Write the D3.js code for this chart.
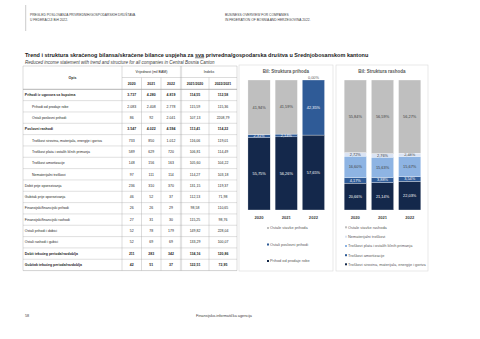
<!DOCTYPE html>
<html><head><meta charset="utf-8">
<script src="https://cdn.jsdelivr.net/npm/d3@7"></script>
<style>body{margin:0;background:#fff} svg{display:block;font-family:"Liberation Sans",Arial,sans-serif}</style>
</head><body><svg id="c" width="480" height="339"></svg>
<script>
// ---------- DATA ----------
const rowLabels = [
  "Prihodi iz ugovora sa kupcima",
  "Prihodi od prodaje robe",
  "Ostali poslovni prihodi",
  "Poslovni rashodi",
  "Troškovi sirovina, materijala, energije i goriva",
  "Troškovi plata i ostalih ličnih primanja",
  "Troškovi amortizacije",
  "Nematerijalni troškovi",
  "Dobit prije oporezivanja",
  "Gubitak prije oporezivanja",
  "Finansijski/financijski prihodi",
  "Finansijski/financijski rashodi",
  "Ostali prihodi i dobici",
  "Ostali rashodi i gubici",
  "Dobit tekućeg perioda/razdoblja",
  "Gubitak tekućeg perioda/razdoblja"
];
const boldRows = [0, 3, 14, 15];
const indentRows = [1, 2, 4, 5, 6, 7];
const val2020 = [3737, 2083, 86, 3547, 733, 589, 148, 97, 236, 46, 26, 27, 52, 52, 211, 42];
const val2021 = [4280, 2408, 92, 4022, 850, 629, 156, 111, 310, 52, 26, 31, 78, 69, 283, 51];
const val2022 = [4819, 2778, 2041, 4594, 1012, 720, 163, 114, 370, 37, 29, 30, 179, 69, 342, 37];
const idx2021_2020 = [114.55, 115.59, 107.13, 113.41, 116.06, 106.81, 105.60, 114.27, 131.15, 112.13, 98.58, 115.25, 149.82, 133.29, 134.16, 122.51];
const idx2022_2021 = [112.58, 115.36, 2208.79, 114.22, 119.01, 114.49, 104.22, 103.18, 119.37, 71.98, 110.65, 98.76, 228.04, 100.07, 120.86, 72.95];
const yearCols = ["2020", "2021", "2022"];
const indexCols = ["2021/2020", "2022/2021"];

const years = ["2020", "2021", "2022"];
// Revenue structure (%), bottom to top
const revKeys = ["Prihod od prodaje robe", "Ostali poslovni prihodi", "Ostale stavke prihoda"];
const revSales = [55.75, 56.26, 57.65];
const revOtherOp = [2.31, 2.14, 42.35];
const revOther = [41.94, 41.59, 0.00];
// Expense structure (%), bottom to top
const expKeys = ["Troškovi sirovina, materijala, energije i goriva", "Troškovi amortizacije", "Troškovi plata i ostalih ličnih primanja", "Nematerijalni troškovi", "Ostale stavke rashoda"];
const expMaterials = [20.66, 21.14, 22.03];
const expDepr = [4.17, 3.88, 3.54];
const expWages = [16.60, 15.63, 15.67];
const expIntang = [2.72, 2.76, 2.48];
const expOther = [55.84, 56.59, 56.27];

// ---------- DRAW ----------
const svg = d3.select("#c");
svg.append("rect").attr("width", 480).attr("height", 339).attr("fill", "#fff");
const loc = d3.formatLocale({decimal: ",", thousands: ".", grouping: [3], currency: ["", ""]});
const fInt = loc.format(",d"), fIdx = loc.format(".2f"), fPct = loc.format(".2f");

// page header
svg.append("line").attr("x1", 25.7).attr("x2", 25.7).attr("y1", 5).attr("y2", 31).attr("stroke", "#999").attr("stroke-width", 0.5);
const hdr = svg.append("g").attr("font-size", 3.3).attr("fill", "#404040");
hdr.append("text").attr("x", 30).attr("y", 16.2).text("PREGLED POSLOVANJA PRIVREDNIH/GOSPODARSKIH DRUŠTAVA");
hdr.append("text").attr("x", 30).attr("y", 21.2).text("U FEDERACIJI BiH 2022.");
hdr.append("text").attr("x", 225).attr("y", 16.2).text("BUSINESS OVERVIEW FOR COMPANIES");
hdr.append("text").attr("x", 225).attr("y", 21.2).text("IN FEDERATION OF BOSNIA AND HERZEGOVINA 2022.");

// title
const t = svg.append("text").attr("x", 25).attr("y", 56.6).attr("font-size", 5.5).attr("font-weight", "bold").attr("fill", "#1a1a1a");
t.append("tspan").text("Trend i struktura skraćenog bilansa/skraćene bilance uspjeha za ");
t.append("tspan").attr("text-decoration", "underline").text("sva");
t.append("tspan").text(" privredna/gospodarska društva u Srednjobosanskom kantonu");
svg.append("text").attr("x", 25).attr("y", 64).attr("font-size", 4.5).attr("font-style", "italic").attr("fill", "#404040")
  .text("Reduced income statement with trend and structure for all companies in Central Bosnia Canton");

// table
const colX = [23, 122, 141.5, 161, 181, 209, 237];
const tTop = 66, h1 = 77.5, h2 = 89.3, rowH = 11.33;
const tBot = h2 + rowH * rowLabels.length;
const tbl = svg.append("g").attr("font-size", 3.5).attr("fill", "#262626");
const ln = (x1, y1, x2, y2, w, c) => tbl.append("line").attr("x1", x1).attr("y1", y1).attr("x2", x2).attr("y2", y2)
  .attr("stroke", c || "#a6a6a6").attr("stroke-width", w || 0.4);
// horizontal lines
ln(colX[0], tTop, colX[6], tTop);
ln(colX[1], h1, colX[6], h1);
ln(colX[0], h2, colX[6], h2, 0.6, "#808080");
rowLabels.forEach((d, i) => ln(colX[0], h2 + rowH * (i + 1), colX[6], h2 + rowH * (i + 1), i === rowLabels.length - 1 ? 0.5 : 0.35));
// vertical lines
[0, 1, 6].forEach(k => ln(colX[k], tTop, colX[k], tBot));
[2, 3, 5].forEach(k => ln(colX[k], h1, colX[k], tBot));
ln(colX[4] - 0.6, tTop, colX[4] - 0.6, tBot, 0.35);
ln(colX[4] + 0.6, tTop, colX[4] + 0.6, tBot, 0.35);
// header text
tbl.append("text").attr("x", (colX[0] + colX[1]) / 2).attr("y", (tTop + h2) / 2).attr("dy", "0.35em").attr("text-anchor", "middle").attr("font-weight", "bold").text("Opis");
tbl.append("text").attr("x", (colX[1] + colX[4]) / 2).attr("y", (tTop + h1) / 2).attr("dy", "0.35em").attr("text-anchor", "middle").text("Vrijednost (mil BAM)");
tbl.append("text").attr("x", (colX[4] + colX[6]) / 2).attr("y", (tTop + h1) / 2).attr("dy", "0.35em").attr("text-anchor", "middle").text("Indeks");
yearCols.concat(indexCols).forEach((c, k) => {
  tbl.append("text").attr("x", (colX[k + 1] + colX[k + 2]) / 2).attr("y", (h1 + h2) / 2).attr("dy", "0.35em")
    .attr("text-anchor", "middle").attr("font-weight", "bold").text(c);
});
// rows
const cols = [val2020, val2021, val2022];
rowLabels.forEach((lab, i) => {
  const y = h2 + rowH * i + rowH / 2;
  const b = boldRows.includes(i) ? "bold" : "normal";
  tbl.append("text").attr("x", indentRows.includes(i) ? 32 : 24.8).attr("y", y).attr("dy", "0.35em").attr("font-weight", b).text(lab);
  cols.forEach((arr, k) => tbl.append("text").attr("x", (colX[k + 1] + colX[k + 2]) / 2).attr("y", y).attr("dy", "0.35em")
    .attr("text-anchor", "middle").attr("font-weight", b).text(fInt(arr[i])));
  [idx2021_2020, idx2022_2021].forEach((arr, k) => tbl.append("text").attr("x", (colX[k + 4] + colX[k + 5]) / 2).attr("y", y).attr("dy", "0.35em")
    .attr("text-anchor", "middle").attr("font-weight", b).text(fIdx(arr[i])));
});

// stacked charts
const y = d3.scaleLinear().domain([0, 100]).range([210, 80]);
function chart(opt) {
  const g = svg.append("g");
  g.append("rect").attr("x", opt.px0).attr("y", 65).attr("width", opt.px1 - opt.px0).attr("height", 206)
    .attr("fill", "#fff").attr("stroke", "#d9d9d9").attr("stroke-width", 0.6);
  g.append("text").attr("x", (opt.px0 + opt.px1) / 2).attr("y", 71.8).attr("dy", "0.35em").attr("text-anchor", "middle")
    .attr("font-size", 4.5).attr("font-weight", "bold").attr("fill", "#595959").text(opt.title);
  const x = d3.scaleBand().domain(years).range(opt.xr).paddingInner(0.18).paddingOuter(0.09);
  const table = years.map((yr, j) => { const o = {year: yr}; opt.keys.forEach((k, s) => o[k] = opt.series[s][j]); return o; });
  const stacked = d3.stack().keys(opt.keys)(table);
  stacked.forEach((ser, s) => {
    const sg = g.append("g");
    sg.selectAll("rect").data(ser).join("rect")
      .attr("x", d => x(d.data.year)).attr("width", x.bandwidth())
      .attr("y", d => y(d[1])).attr("height", d => y(d[0]) - y(d[1]))
      .attr("fill", opt.colors[s]).attr("stroke", "#fff").attr("stroke-width", 0.3);
    sg.selectAll("text").data(ser).join("text")
      .attr("x", d => x(d.data.year) + x.bandwidth() / 2)
      .attr("y", d => (d[1] - d[0]) < 0.005 ? y(d[1]) - 2.8 : (y(d[0]) + y(d[1])) / 2)
      .attr("dy", "0.35em").attr("text-anchor", "middle").attr("font-size", 3.9)
      .attr("fill", d => (d[1] - d[0]) < 0.005 ? "#595959" : opt.labelColors[s])
      .text(d => fPct(d[1] - d[0]) + "%");
  });
  g.selectAll(".xl").data(years).join("text").attr("class", "xl")
    .attr("x", d => x(d) + x.bandwidth() / 2).attr("y", 217.3).attr("dy", "0.35em").attr("text-anchor", "middle")
    .attr("font-size", 4.1).attr("font-weight", "bold").attr("fill", "#404040").text(d => d);
  // legend (top to bottom = reverse of stack)
  const lk = opt.keys.slice().reverse(), lc = opt.colors.slice().reverse();
  lk.forEach((k, i) => {
    const ly = opt.legY[i];
    g.append("rect").attr("x", opt.legX).attr("y", ly - 1).attr("width", 2).attr("height", 2).attr("fill", lc[i]);
    g.append("text").attr("x", opt.legX + 3).attr("y", ly).attr("dy", "0.35em").attr("font-size", 3.9).attr("fill", "#595959").text(k);
  });
}
const navy = "#14284b", mid = "#2f5b97", light = "#8eb4e3", pale = "#dae3f3", gray = "#bfbfbf";
chart({
  title: "BiI: Struktura prihoda", px0: 239, px1: 333, xr: [245.5, 327],
  keys: revKeys, series: [revSales, revOtherOp, revOther],
  colors: [navy, mid, gray], labelColors: ["#fff", "#fff", "#404040"],
  legX: 267, legY: [228, 244.5, 261]
});
chart({
  title: "BiI: Struktura rashoda", px0: 336, px1: 428, xr: [341.7, 423.3],
  keys: expKeys, series: [expMaterials, expDepr, expWages, expIntang, expOther],
  colors: [navy, mid, light, pale, gray], labelColors: ["#fff", "#fff", "#404040", "#404040", "#404040"],
  legX: 345, legY: [227.3, 236.7, 246, 255.2, 264.3]
});

// footer
svg.append("text").attr("x", 25).attr("y", 317.3).attr("font-size", 3.8).attr("fill", "#404040").text("58");
svg.append("text").attr("x", 224).attr("y", 317.3).attr("text-anchor", "middle").attr("font-size", 3.8).attr("fill", "#404040").text("Finansijsko-informatička agencija");
</script></body></html>
